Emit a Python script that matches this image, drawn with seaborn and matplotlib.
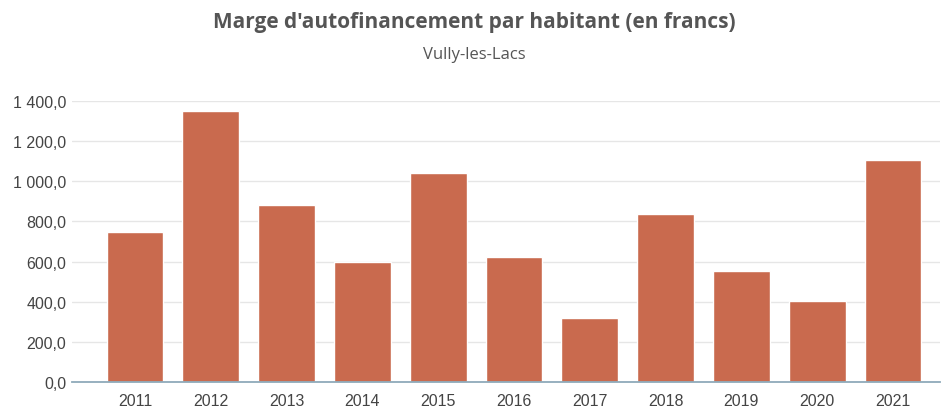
import numpy as np
import pandas as pd
import seaborn as sns
import matplotlib.pyplot as plt
from matplotlib.ticker import FuncFormatter

# donnees
annees = ['2011', '2012', '2013', '2014', '2015', '2016', '2017', '2018', '2019', '2020', '2021']
marge = [746, 1350, 882, 600, 1038, 622, 320, 837, 555, 406, 1107]

df = pd.DataFrame({'annee': annees, 'marge': marge})

sns.set_style('white')
plt.rcParams['font.family'] = ['Open Sans', 'DejaVu Sans']

fig = plt.figure(figsize=(9.49, 4.10), dpi=100)
ax = fig.add_axes([0.0759, 0.0651, 0.9146, 0.687])

sns.barplot(data=df, x='annee', y='marge', color='#C96A4E', saturation=1,
            width=0.75, ax=ax, zorder=3)

ax.set_xlim(-0.83, 10.62)
ax.set_ylim(0, 1400)
ax.set_yticks(np.arange(0, 1401, 200))

def fmt(v, pos):
    s = f"{v:,.1f}".replace(',', ' ').replace('.', ',')
    return s
ax.yaxis.set_major_formatter(FuncFormatter(fmt))

ax.grid(axis='y', color='#E6E6E6', linewidth=1, zorder=0)
for s in ['top', 'right', 'left']:
    ax.spines[s].set_visible(False)
ax.spines['bottom'].set_color('#8FAABA')
ax.spines['bottom'].set_linewidth(1.3)
ax.spines['bottom'].set_zorder(4)
ax.tick_params(axis='both', length=0, labelsize=11.5, colors='#444444')
for lab in ax.get_xticklabels() + ax.get_yticklabels():
    lab.set_family(['Liberation Sans', 'DejaVu Sans'])
ax.tick_params(axis='x', pad=8)
ax.tick_params(axis='y', pad=4)
ax.set_xlabel('')
ax.set_ylabel('')

fig.text(0.5, 0.945, "Marge d'autofinancement par habitant (en francs)",
         ha='center', va='center', fontsize=15, fontweight='bold', color='#555555')
fig.text(0.5, 0.866, 'Vully-les-Lacs', ha='center', va='center',
         fontsize=12, color='#555555')

fig.savefig('out.png', dpi=100)
